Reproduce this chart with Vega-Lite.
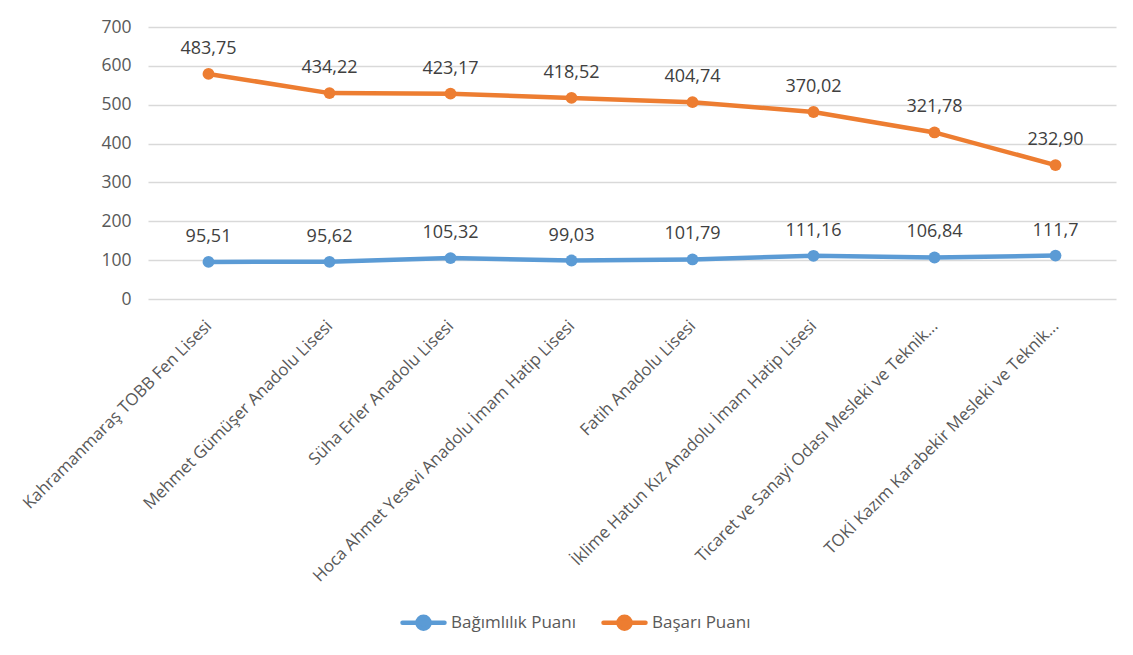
{
  "$schema": "https://vega.github.io/schema/vega-lite/v6.json",
  "autosize": {"type": "none"},
  "width": 968,
  "height": 272,
  "padding": {"left": 148, "top": 27, "right": 17, "bottom": 356},
  "background": "white",
  "data": {
    "values": [
      {"okul": "Kahramanmaraş TOBB Fen Lisesi", "seri": "Bağımlılık Puanı", "k": 1, "deger": 95.51, "etiket": "95,51"},
      {"okul": "Kahramanmaraş TOBB Fen Lisesi", "seri": "Başarı Puanı", "k": 2, "deger": 483.75, "etiket": "483,75"},
      {"okul": "Mehmet Gümüşer Anadolu Lisesi", "seri": "Bağımlılık Puanı", "k": 1, "deger": 95.62, "etiket": "95,62"},
      {"okul": "Mehmet Gümüşer Anadolu Lisesi", "seri": "Başarı Puanı", "k": 2, "deger": 434.22, "etiket": "434,22"},
      {"okul": "Süha Erler Anadolu Lisesi", "seri": "Bağımlılık Puanı", "k": 1, "deger": 105.32, "etiket": "105,32"},
      {"okul": "Süha Erler Anadolu Lisesi", "seri": "Başarı Puanı", "k": 2, "deger": 423.17, "etiket": "423,17"},
      {"okul": "Hoca Ahmet Yesevi Anadolu İmam Hatip Lisesi", "seri": "Bağımlılık Puanı", "k": 1, "deger": 99.03, "etiket": "99,03"},
      {"okul": "Hoca Ahmet Yesevi Anadolu İmam Hatip Lisesi", "seri": "Başarı Puanı", "k": 2, "deger": 418.52, "etiket": "418,52"},
      {"okul": "Fatih Anadolu Lisesi", "seri": "Bağımlılık Puanı", "k": 1, "deger": 101.79, "etiket": "101,79"},
      {"okul": "Fatih Anadolu Lisesi", "seri": "Başarı Puanı", "k": 2, "deger": 404.74, "etiket": "404,74"},
      {"okul": "İklime Hatun Kız Anadolu İmam Hatip Lisesi", "seri": "Bağımlılık Puanı", "k": 1, "deger": 111.16, "etiket": "111,16"},
      {"okul": "İklime Hatun Kız Anadolu İmam Hatip Lisesi", "seri": "Başarı Puanı", "k": 2, "deger": 370.02, "etiket": "370,02"},
      {"okul": "Ticaret ve Sanayi Odası Mesleki ve Teknik...", "seri": "Bağımlılık Puanı", "k": 1, "deger": 106.84, "etiket": "106,84"},
      {"okul": "Ticaret ve Sanayi Odası Mesleki ve Teknik...", "seri": "Başarı Puanı", "k": 2, "deger": 321.78, "etiket": "321,78"},
      {"okul": "TOKİ Kazım Karabekir Mesleki ve Teknik...", "seri": "Bağımlılık Puanı", "k": 1, "deger": 111.7, "etiket": "111,7"},
      {"okul": "TOKİ Kazım Karabekir Mesleki ve Teknik...", "seri": "Başarı Puanı", "k": 2, "deger": 232.90, "etiket": "232,90"}
    ]
  },
  "transform": [
    {"stack": "deger", "groupby": ["okul"], "sort": [{"field": "k", "order": "ascending"}], "as": ["y0", "y1"]}
  ],
  "encoding": {
    "x": {
      "field": "okul",
      "type": "nominal",
      "scale": {
        "type": "point",
        "padding": 0.5,
        "domain": [
          "Kahramanmaraş TOBB Fen Lisesi",
          "Mehmet Gümüşer Anadolu Lisesi",
          "Süha Erler Anadolu Lisesi",
          "Hoca Ahmet Yesevi Anadolu İmam Hatip Lisesi",
          "Fatih Anadolu Lisesi",
          "İklime Hatun Kız Anadolu İmam Hatip Lisesi",
          "Ticaret ve Sanayi Odası Mesleki ve Teknik...",
          "TOKİ Kazım Karabekir Mesleki ve Teknik..."
        ]
      },
      "axis": {
        "title": null,
        "labelAngle": -45,
        "labelAlign": "right",
        "labelBaseline": "middle",
        "labelPadding": 24,
        "labelFontSize": 16.8,
        "labelColor": "#595959",
        "labelFont": "Open Sans",
        "labelLimit": 400,
        "ticks": false,
        "domain": false,
        "grid": false
      }
    },
    "y": {
      "field": "y1",
      "type": "quantitative",
      "scale": {"domain": [0, 700], "nice": false, "zero": true},
      "axis": {
        "title": null,
        "values": [0, 100, 200, 300, 400, 500, 600, 700],
        "labelFontSize": 17.5,
        "labelColor": "#595959",
        "labelFont": "Open Sans",
        "labelPadding": 17,
        "ticks": false,
        "domain": false,
        "gridColor": "#d9d9d9",
        "gridWidth": 1.5
      }
    },
    "color": {
      "field": "seri",
      "type": "nominal",
      "scale": {"domain": ["Bağımlılık Puanı", "Başarı Puanı"], "range": ["#5B9BD5", "#ED7D31"]},
      "legend": {
        "title": null,
        "orient": "none",
        "direction": "horizontal",
        "legendX": 252,
        "legendY": 572,
        "symbolType": "M-1,0H1M0.286,0A0.286,0.286,0,1,1,-0.286,0A0.286,0.286,0,1,1,0.286,0Z",
        "symbolSize": 1764,
        "symbolStrokeWidth": 4.5,
        "labelFontSize": 17,
        "labelFont": "Open Sans",
        "labelColor": "#595959",
        "labelOffset": 4,
        "columnPadding": 17,
        "encode": {"symbols": {"update": {"fill": {"scale": "color", "field": "value"}, "strokeCap": {"value": "round"}}}}
      }
    }
  },
  "layer": [
    {
      "mark": {"type": "line", "strokeWidth": 4.5, "strokeCap": "round", "point": {"filled": true, "size": 140}}
    },
    {
      "mark": {"type": "text", "dy": -20, "baseline": "alphabetic", "fontSize": 18, "font": "Open Sans", "color": "#404040"},
      "encoding": {"text": {"field": "etiket"}, "color": {"value": "#404040"}}
    }
  ],
  "config": {"view": {"stroke": null}}
}
